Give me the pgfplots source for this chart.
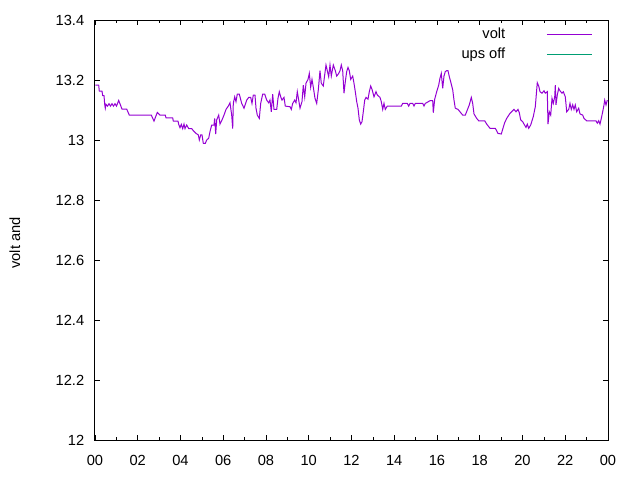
\documentclass[border=0pt]{standalone}
\usepackage{fontspec}
\setmainfont{Liberation Sans}
\usepackage{pgfplots}
\pgfplotsset{compat=1.18}
\definecolor{voltc}{RGB}{148,0,211}
\definecolor{upsc}{RGB}{0,158,115}
\begin{document}
\fontsize{11}{13}\selectfont
\begin{tikzpicture}
\useasboundingbox (0,0) rectangle (480pt,360pt);
\begin{axis}[
  at={(71.25pt,30pt)}, anchor=south west,
  scale only axis, width=384.75pt, height=315pt,
  xmin=0, xmax=24, ymin=12, ymax=13.4,
  xtick={0,2,...,24},
  xticklabels={00,02,04,06,08,10,12,14,16,18,20,22,00},
  minor xtick={1,3,...,23},
  ytick={12,12.2,12.4,12.6,12.8,13,13.2,13.4},
  yticklabels={12,12.2,12.4,12.6,12.8,13,13.2,13.4},
  /pgf/number format/assume math mode=true,
  tick align=inside,
  major tick length=4pt, minor tick length=2pt,
  tick style={black, line width=0.5pt},
  axis line style={black, line width=0.75pt},
  xticklabel style={yshift=-7.5pt},
  yticklabel style={xshift=-4.25pt},
  ylabel={volt and},
  ylabel style={at={(axis description cs:-0.156,0.469)}, anchor=center, rotate=0},
  legend style={draw=none, fill=none, at={(rel axis cs:0.9786,0.9935)}, anchor=north east,
    row sep=1pt, font=\fontsize{11}{13}\selectfont},
  legend cell align=right,
  legend plot pos=right,
]
\addlegendimage{legend image code/.code={\path (0pt,0pt); \draw[voltc, line width=0.8pt] (29pt,0pt) -- (63pt,0pt);}}
\addlegendentry{volt}
\addlegendimage{legend image code/.code={\path (0pt,0pt); \draw[upsc, line width=0.8pt] (29pt,0pt) -- (63pt,0pt);}}
\addlegendentry{ups off}
\addplot[draw=voltc, line width=0.75pt, forget plot] coordinates {
(0.014,13.183)(0.173,13.183)(0.201,13.163)(0.327,13.163)(0.360,13.148)(0.421,13.148)
(0.454,13.119)(0.482,13.106)(0.515,13.119)(0.585,13.113)(0.655,13.121)(0.725,13.113)
(0.795,13.121)(0.865,13.113)(0.936,13.121)(1.006,13.113)(1.109,13.132)(1.263,13.103)
(1.483,13.103)(1.605,13.083)(2.634,13.083)(2.760,13.063)(2.915,13.092)(3.041,13.083)
(3.289,13.083)(3.322,13.074)(3.635,13.074)(3.663,13.063)(3.883,13.063)(3.916,13.052)
(3.977,13.041)(4.037,13.052)(4.103,13.038)(4.164,13.053)(4.211,13.038)(4.290,13.050)
(4.384,13.038)(4.524,13.038)(4.599,13.031)(4.725,13.022)(4.833,13.017)(4.880,13.000)
(4.945,13.017)(5.006,13.017)(5.067,12.989)(5.160,12.989)(5.226,13.000)(5.319,13.006)
(5.380,13.028)(5.460,13.050)(5.567,13.050)(5.600,13.072)(5.647,13.020)(5.694,13.067)
(5.787,13.083)(5.848,13.053)(5.942,13.067)(6.035,13.083)(6.129,13.102)(6.236,13.113)
(6.316,13.124)(6.395,13.083)(6.442,13.038)(6.470,13.122)(6.536,13.144)(6.596,13.128)
(6.657,13.153)(6.751,13.153)(6.863,13.122)(6.971,13.106)(7.097,13.133)(7.191,13.142)
(7.284,13.142)(7.345,13.122)(7.406,13.150)(7.485,13.150)(7.532,13.106)(7.593,13.083)
(7.687,13.072)(7.752,13.122)(7.846,13.153)(7.939,13.153)(8.033,13.133)(8.126,13.124)
(8.187,13.133)(8.248,13.094)(8.313,13.153)(8.374,13.102)(8.501,13.102)(8.561,13.139)
(8.622,13.161)(8.688,13.144)(8.749,13.133)(8.842,13.142)(8.903,13.113)(9.123,13.111)
(9.184,13.102)(9.249,13.122)(9.343,13.133)(9.404,13.124)(9.464,13.161)(9.530,13.133)
(9.591,13.106)(9.684,13.128)(9.745,13.183)(9.811,13.144)(9.871,13.189)(9.965,13.202)
(10.026,13.222)(10.091,13.176)(10.152,13.202)(10.213,13.176)(10.292,13.139)(10.372,13.122)
(10.447,13.167)(10.526,13.231)(10.587,13.189)(10.681,13.180)(10.746,13.217)(10.807,13.250)
(10.868,13.231)(10.933,13.211)(10.994,13.250)(11.055,13.213)(11.149,13.250)(11.242,13.231)
(11.308,13.213)(11.401,13.222)(11.462,13.231)(11.523,13.250)(11.588,13.231)(11.649,13.156)
(11.710,13.194)(11.775,13.228)(11.836,13.242)(11.897,13.231)(11.963,13.202)(12.056,13.213)
(12.117,13.189)(12.178,13.161)(12.243,13.128)(12.304,13.106)(12.365,13.067)(12.430,13.053)
(12.491,13.061)(12.552,13.094)(12.618,13.133)(12.678,13.142)(12.772,13.136)(12.833,13.161)
(12.898,13.180)(12.959,13.169)(13.053,13.144)(13.146,13.161)(13.207,13.150)(13.333,13.142)
(13.394,13.128)(13.460,13.102)(13.520,13.122)(13.581,13.102)(13.675,13.113)(14.330,13.113)
(14.395,13.122)(14.611,13.122)(14.676,13.113)(14.737,13.122)(14.863,13.122)(14.924,13.113)
(14.985,13.122)(15.331,13.122)(15.392,13.113)(15.453,13.122)(15.673,13.131)(15.799,13.131)
(15.827,13.091)(15.893,13.136)(15.986,13.161)(16.080,13.183)(16.140,13.206)(16.201,13.222)
(16.267,13.172)(16.327,13.213)(16.388,13.228)(16.454,13.231)(16.515,13.231)(16.576,13.211)
(16.641,13.194)(16.735,13.167)(16.795,13.133)(16.856,13.106)(16.982,13.102)(17.076,13.094)
(17.202,13.083)(17.324,13.083)(17.418,13.100)(17.511,13.117)(17.605,13.142)(17.670,13.122)
(17.731,13.087)(17.857,13.072)(17.951,13.064)(18.232,13.064)(18.325,13.053)(18.480,13.039)
(18.728,13.039)(18.854,13.022)(19.008,13.020)(19.074,13.036)(19.167,13.058)(19.261,13.072)
(19.415,13.089)(19.542,13.098)(19.602,13.102)(19.696,13.094)(19.789,13.102)(19.850,13.091)
(19.916,13.067)(20.009,13.061)(20.070,13.053)(20.164,13.042)(20.225,13.053)(20.290,13.039)
(20.384,13.050)(20.505,13.078)(20.599,13.111)(20.664,13.167)(20.692,13.191)(20.758,13.180)
(20.819,13.161)(20.912,13.156)(21.006,13.164)(21.067,13.156)(21.160,13.161)(21.193,13.053)
(21.254,13.094)(21.320,13.083)(21.380,13.139)(21.441,13.122)(21.507,13.144)(21.535,13.183)
(21.567,13.117)(21.628,13.150)(21.694,13.172)(21.754,13.164)(21.848,13.156)(21.909,13.161)
(22.003,13.144)(22.068,13.094)(22.162,13.102)(22.222,13.122)(22.283,13.102)(22.349,13.117)
(22.409,13.102)(22.470,13.117)(22.535,13.094)(22.629,13.106)(22.690,13.087)(22.816,13.083)
(22.877,13.072)(23.003,13.064)(23.439,13.064)(23.499,13.056)(23.565,13.064)(23.626,13.053)
(23.687,13.072)(23.752,13.094)(23.813,13.117)(23.846,13.133)(23.907,13.117)(23.967,13.133)
};
\end{axis}
\end{tikzpicture}
\end{document}
